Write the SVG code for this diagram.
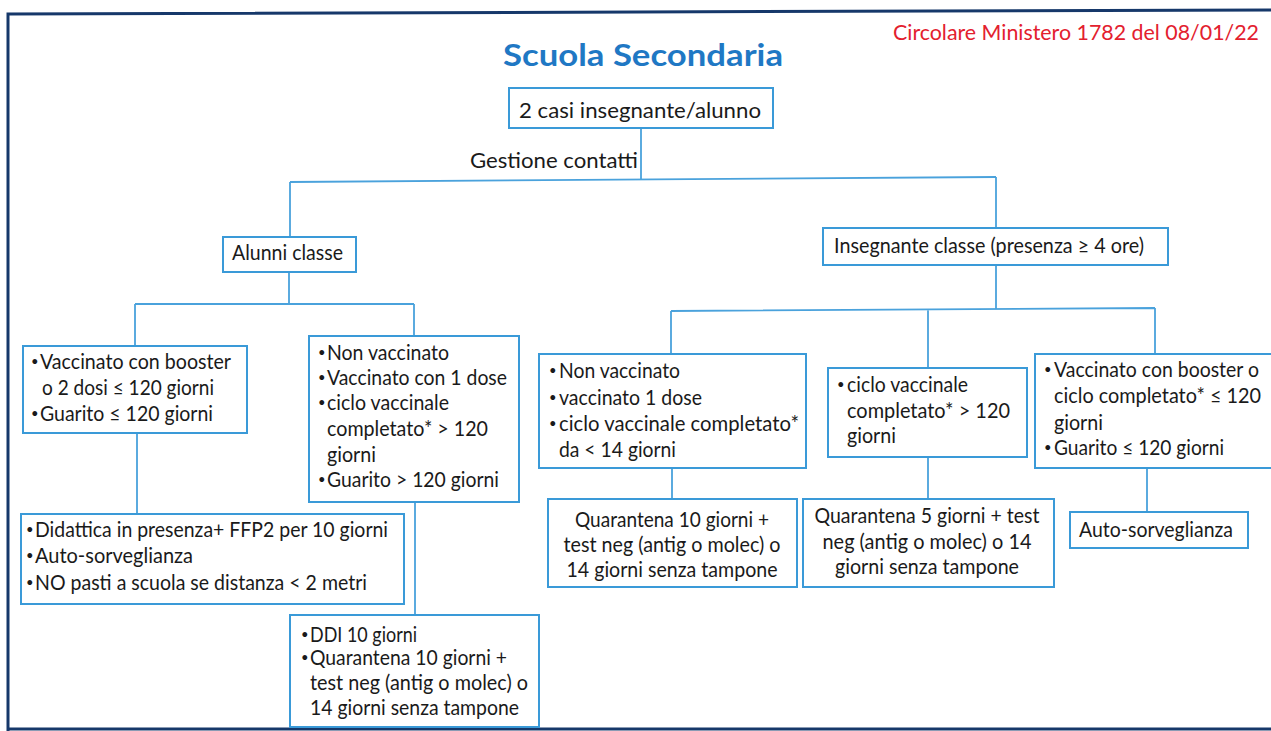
<svg xmlns="http://www.w3.org/2000/svg" width="1271" height="731" viewBox="0 0 1271 731">
<style>
.frame{fill:none;stroke:#16386a;stroke-width:3}
.box{fill:#ffffff;stroke:#3a9ad8;stroke-width:2}
.con{fill:none;stroke:#4aa2dc;stroke-width:1.8}
text{font-family:Lato,"Liberation Sans",sans-serif;fill:#1a1a1a;font-size:20.5px}
.c{text-anchor:middle}
.b{font-size:13px}
.title{font-weight:bold;font-size:31px;fill:#1f78c4}
.red{fill:#e3202e;font-size:21px}
</style>
<rect width="1271" height="731" fill="#ffffff"/>
<g id="frame">
<path class="frame" d="M8,731 L8,14 L1272,10"/>
<path class="frame" d="M8,729 L1272,729" stroke-width="2"/>
</g>
<g id="title"><text class="title" x="503" y="66" textLength="280" lengthAdjust="spacingAndGlyphs">Scuola Secondaria</text></g>
<g id="source"><text class="red" x="893" y="40" textLength="366" lengthAdjust="spacingAndGlyphs">Circolare Ministero 1782 del 08/01/22</text></g>
<g id="connectors">
<path class="con" d="M641,128 L641,179"/>
<path class="con" d="M290,182 L996,177"/>
<path class="con" d="M290,182 L290,237"/>
<path class="con" d="M996,177 L996,228"/>
<path class="con" d="M289,272 L289,304 M135,304 L414,304 M135,304 L135,346 M414,304 L414,336"/>
<path class="con" d="M996,265 L996,309 M671,311 L1155,308 M671,311 L671,354 M928,310 L928,368 M1155,308 L1155,353"/>
<path class="con" d="M137,433 L137,514 M415,502 L415,615 M672,468 L672,499 M928,457 L928,499 M1147,468 L1147,512"/>
</g>
<g id="n-casi"><rect class="box" x="509" y="88" width="264" height="40"/><text x="519" y="118" textLength="242" lengthAdjust="spacingAndGlyphs">2 casi insegnante/alunno</text></g>
<g id="n-gestione"><text x="470" y="168" textLength="168" lengthAdjust="spacingAndGlyphs">Gestione contatti</text></g>
<g id="n-alunni"><rect class="box" x="223" y="237" width="133" height="35"/><text x="232" y="260" textLength="111" lengthAdjust="spacingAndGlyphs">Alunni classe</text></g>
<g id="n-insegnante"><rect class="box" x="823" y="228" width="345" height="37"/><text x="834" y="253" textLength="310" lengthAdjust="spacingAndGlyphs">Insegnante classe (presenza ≥ 4 ore)</text></g>
<g id="n-a-vacc">
<rect class="box" x="23" y="346" width="224" height="87"/>
<text class="b" x="31" y="366">•</text><text x="40" y="369" textLength="191" lengthAdjust="spacingAndGlyphs">Vaccinato con booster</text>
<text x="42" y="395" textLength="172" lengthAdjust="spacingAndGlyphs">o 2 dosi ≤ 120 giorni</text>
<text class="b" x="31" y="418">•</text><text x="40" y="421" textLength="173" lengthAdjust="spacingAndGlyphs">Guarito ≤ 120 giorni</text>
</g>
<g id="n-a-nonvacc">
<rect class="box" x="309" y="336" width="210" height="166"/>
<text class="b" x="318" y="357">•</text><text x="327" y="360" textLength="122" lengthAdjust="spacingAndGlyphs">Non vaccinato</text>
<text class="b" x="318" y="382">•</text><text x="327" y="385" textLength="180" lengthAdjust="spacingAndGlyphs">Vaccinato con 1 dose</text>
<text class="b" x="318" y="407">•</text><text x="327" y="410" textLength="122" lengthAdjust="spacingAndGlyphs">ciclo vaccinale</text>
<text x="327" y="436" textLength="161" lengthAdjust="spacingAndGlyphs">completato* &gt; 120</text>
<text x="327" y="462" textLength="49" lengthAdjust="spacingAndGlyphs">giorni</text>
<text class="b" x="318" y="484">•</text><text x="327" y="487" textLength="172" lengthAdjust="spacingAndGlyphs">Guarito &gt; 120 giorni</text>
</g>
<g id="n-didattica">
<rect class="box" x="21" y="514" width="383" height="90"/>
<text class="b" x="26" y="534">•</text><text x="35" y="537" textLength="353" lengthAdjust="spacingAndGlyphs">Didattica in presenza+ FFP2 per 10 giorni</text>
<text class="b" x="26" y="560">•</text><text x="35" y="563" textLength="158" lengthAdjust="spacingAndGlyphs">Auto-sorveglianza</text>
<text class="b" x="26" y="587">•</text><text x="35" y="590" textLength="332" lengthAdjust="spacingAndGlyphs">NO pasti a scuola se distanza &lt; 2 metri</text>
</g>
<g id="n-ddi">
<rect class="box" x="290" y="615" width="249" height="112"/>
<text class="b" x="301" y="639">•</text><text x="310" y="642" textLength="107" lengthAdjust="spacingAndGlyphs">DDI 10 giorni</text>
<text class="b" x="301" y="662">•</text><text x="310" y="665" textLength="197" lengthAdjust="spacingAndGlyphs">Quarantena 10 giorni +</text>
<text x="310" y="690" textLength="218" lengthAdjust="spacingAndGlyphs">test neg (antig o molec) o</text>
<text x="310" y="715" textLength="209" lengthAdjust="spacingAndGlyphs">14 giorni senza tampone</text>
</g>
<g id="n-i-nonvacc">
<rect class="box" x="539" y="354" width="267" height="114"/>
<text class="b" x="549" y="375">•</text><text x="559" y="378" textLength="121" lengthAdjust="spacingAndGlyphs">Non vaccinato</text>
<text class="b" x="549" y="402">•</text><text x="559" y="405" textLength="143" lengthAdjust="spacingAndGlyphs">vaccinato 1 dose</text>
<text class="b" x="549" y="428">•</text><text x="559" y="431" textLength="240" lengthAdjust="spacingAndGlyphs">ciclo vaccinale completato*</text>
<text x="559" y="457" textLength="117" lengthAdjust="spacingAndGlyphs">da &lt; 14 giorni</text>
</g>
<g id="n-i-ciclo">
<rect class="box" x="828" y="368" width="199" height="89"/>
<text class="b" x="837" y="389">•</text><text x="847" y="392" textLength="121" lengthAdjust="spacingAndGlyphs">ciclo vaccinale</text>
<text x="847" y="418" textLength="163" lengthAdjust="spacingAndGlyphs">completato* &gt; 120</text>
<text x="847" y="443" textLength="49" lengthAdjust="spacingAndGlyphs">giorni</text>
</g>
<g id="n-i-booster">
<rect class="box" x="1035" y="354" width="245" height="114"/>
<text class="b" x="1044" y="374">•</text><text x="1054" y="377" textLength="205" lengthAdjust="spacingAndGlyphs">Vaccinato con booster o</text>
<text x="1054" y="403" textLength="207" lengthAdjust="spacingAndGlyphs">ciclo completato*  ≤ 120</text>
<text x="1054" y="430" textLength="49" lengthAdjust="spacingAndGlyphs">giorni</text>
<text class="b" x="1044" y="452">•</text><text x="1054" y="455" textLength="170" lengthAdjust="spacingAndGlyphs">Guarito ≤ 120 giorni</text>
</g>
<g id="n-q10">
<rect class="box" x="548" y="499" width="249" height="88"/>
<text class="c" x="672" y="527" textLength="194" lengthAdjust="spacingAndGlyphs">Quarantena 10 giorni +</text>
<text class="c" x="672" y="552" textLength="217" lengthAdjust="spacingAndGlyphs">test neg (antig o molec) o</text>
<text class="c" x="672" y="577" textLength="211" lengthAdjust="spacingAndGlyphs">14 giorni senza tampone</text>
</g>
<g id="n-q5">
<rect class="box" x="803" y="499" width="251" height="88"/>
<text class="c" x="927" y="523" textLength="225" lengthAdjust="spacingAndGlyphs">Quarantena 5 giorni + test</text>
<text class="c" x="927" y="549" textLength="209" lengthAdjust="spacingAndGlyphs">neg (antig o molec) o 14</text>
<text class="c" x="927" y="574" textLength="184" lengthAdjust="spacingAndGlyphs">giorni senza tampone</text>
</g>
<g id="n-auto">
<rect class="box" x="1070" y="512" width="178" height="36"/>
<text x="1079" y="537" textLength="154" lengthAdjust="spacingAndGlyphs">Auto-sorveglianza</text>
</g>
</svg>
